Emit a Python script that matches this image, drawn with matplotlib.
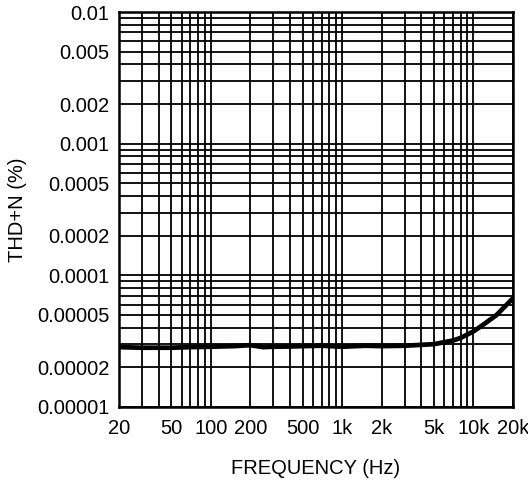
import matplotlib
matplotlib.use("Agg")
import matplotlib.pyplot as plt
from matplotlib.ticker import FixedLocator, LogLocator, NullFormatter

plt.rcParams['font.family'] = ['Liberation Sans', 'DejaVu Sans']

freq = [20, 30, 50, 70, 100, 150, 200, 250, 300, 400, 500, 700, 1000, 1500,
        2000, 3000, 5000, 7000, 8000, 10000, 12000, 15000, 20000]
thdn = [2.85e-5, 2.82e-5, 2.82e-5, 2.85e-5, 2.87e-5, 2.9e-5, 2.95e-5, 2.85e-5,
        2.87e-5, 2.88e-5, 2.9e-5, 2.92e-5, 2.87e-5, 2.92e-5, 2.9e-5, 2.92e-5,
        3.0e-5, 3.2e-5, 3.35e-5, 3.75e-5, 4.25e-5, 5.0e-5, 6.7e-5]

xticks = [20, 50, 100, 200, 500, 1000, 2000, 5000, 10000, 20000]
xlabels = ['20', '50', '100', '200', '500', '1k', '2k', '5k', '10k', '20k']
yticks = [1e-5, 2e-5, 5e-5, 1e-4, 2e-4, 5e-4, 1e-3, 2e-3, 5e-3, 1e-2]
ylabels = ['0.00001', '0.00002', '0.00005', '0.0001', '0.0002', '0.0005',
           '0.001', '0.002', '0.005', '0.01']

fig = plt.figure(figsize=(5.28, 4.8), dpi=100)
ax = fig.add_axes([119/528, 1 - 407/480, 394/528, 395/480])

ax.plot(freq, thdn, color='black', linewidth=3.4, zorder=3)
ax.set_xscale('log')
ax.set_yscale('log')
ax.set_xlim(20, 20000)
ax.set_ylim(1e-5, 1e-2)

ax.xaxis.set_major_locator(FixedLocator(xticks))
ax.set_xticklabels(xlabels)
ax.yaxis.set_major_locator(FixedLocator(yticks))
ax.set_yticklabels(ylabels)
ax.xaxis.set_minor_locator(LogLocator(base=10, subs=range(1, 10), numticks=20))
ax.yaxis.set_minor_locator(LogLocator(base=10, subs=range(1, 10), numticks=20))
ax.xaxis.set_minor_formatter(NullFormatter())
ax.yaxis.set_minor_formatter(NullFormatter())

ax.grid(True, which='both', color='black', linewidth=1.3)
ax.tick_params(which='both', length=0, labelsize=14.5)
ax.tick_params(axis='x', pad=9)
ax.tick_params(axis='y', pad=7)
for s in ax.spines.values():
    s.set_linewidth(1.8)

ax.set_xlabel('FREQUENCY (Hz)', fontsize=14.5, labelpad=15)
ax.set_ylabel('THD+N (%)', fontsize=14.5, labelpad=7)

fig.savefig('out.png', dpi=100)
